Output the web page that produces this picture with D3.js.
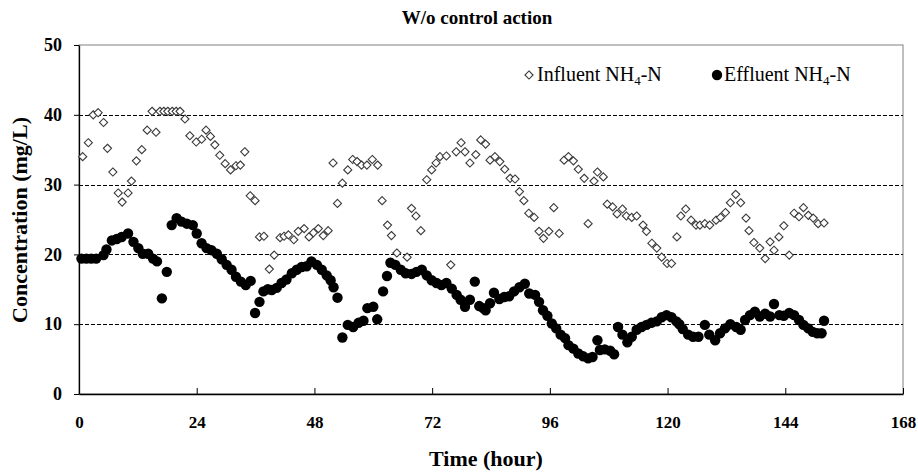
<!DOCTYPE html>
<html>
<head>
<meta charset="utf-8">
<script src="https://cdn.jsdelivr.net/npm/d3@7"></script>
<style>
  html, body { margin: 0; padding: 0; background: #fff; }
  svg text { font-family: "Liberation Serif", "Times New Roman", serif; fill: #000; }
</style>
</head>
<body>
<svg id="chart" width="918" height="472"></svg>
<script>
// Influent NH4-N: [time (h), concentration (mg/L)]
const influent = [
  [0.75,34.0],[1.9,36.0],[2.9,40.0],[3.9,40.3],[5.0,38.9],[5.8,35.2],[6.9,31.8],[8.0,28.8],
  [8.8,27.5],[10.0,28.8],[10.7,30.5],[11.7,33.4],[12.8,35.0],[13.9,37.8],[14.9,40.5],[15.7,37.5],
  [16.5,40.5],[17.3,40.5],[18.1,40.5],[19.0,40.5],[19.8,40.5],[20.6,40.5],[21.6,39.4],[22.6,37.0],
  [23.9,36.1],[25.0,36.5],[25.9,37.8],[26.8,36.9],[27.7,35.7],[28.7,34.2],[29.8,33.0],[30.9,32.1],
  [32.0,32.7],[32.9,32.8],[33.8,34.7],[34.9,28.4],[35.9,27.7],[36.8,22.5],[37.7,22.6],[38.8,17.9],
  [39.8,19.9],[41.0,22.4],[41.8,22.6],[42.7,22.8],[43.8,22.1],[44.7,23.3],[45.9,23.7],[46.9,22.5],
  [47.8,23.1],[48.8,23.7],[49.8,22.7],[50.8,23.4],[51.8,33.1],[52.7,27.3],[53.7,30.2],[54.8,32.1],
  [55.8,33.6],[56.7,33.3],[57.6,32.8],[58.7,32.8],[59.8,33.6],[60.9,32.8],[61.8,27.7],[62.9,24.2],
  [63.7,22.7],[64.8,20.2],[66.9,19.6],[67.8,26.6],[68.7,25.5],[69.7,23.4],[70.9,30.7],[71.9,32.1],
  [72.8,33.1],[73.6,34.0],[74.9,34.1],[75.8,18.5],[76.9,34.7],[77.9,36.0],[78.7,34.7],[79.7,33.1],
  [80.9,34.3],[81.9,36.4],[82.9,35.8],[83.8,33.5],[84.8,34.0],[85.8,33.3],[86.8,32.2],[87.9,30.9],
  [88.9,30.8],[89.8,29.0],[90.7,27.7],[91.7,25.9],[92.8,25.3],[93.8,23.3],[94.7,22.3],[95.8,23.3],
  [96.8,26.7],[97.9,23.0],[98.9,33.5],[99.8,34.0],[100.8,33.4],[101.8,32.2],[103.0,30.9],[103.8,24.4],
  [105.0,30.5],[105.7,31.8],[106.9,31.1],[107.7,27.2],[108.8,26.8],[109.7,25.8],[110.8,26.5],[111.6,25.5],
  [112.7,25.3],[113.7,25.5],[115.0,24.2],[115.7,23.3],[116.8,21.6],[117.8,20.9],[118.8,19.6],[119.9,18.7],
  [120.8,18.7],[121.9,22.5],[122.7,25.5],[123.7,26.5],[124.8,24.9],[125.8,24.2],[126.6,24.2],[127.6,24.4],
  [128.6,24.2],[129.9,24.9],[130.8,25.3],[131.8,26.0],[132.8,27.4],[133.9,28.6],[134.9,27.4],[136.0,25.2],
  [136.6,23.4],[137.6,21.7],[138.8,20.9],[139.9,19.4],[140.9,21.8],[141.7,20.6],[142.7,22.5],[143.7,24.1],
  [144.8,19.9],[145.8,25.9],[146.8,25.4],[147.7,26.7],[148.7,25.6],[149.7,25.2],[150.7,24.4],[151.9,24.5]
];

// Effluent NH4-N: [time (h), concentration (mg/L)]
const effluent = [
  [0.5,19.4],[1.5,19.4],[2.5,19.4],[3.5,19.4],[5.0,19.9],[5.6,20.7],[6.7,22.0],[7.7,22.2],
  [8.7,22.5],[10.0,23.0],[11.1,21.8],[12.1,20.9],[13.0,20.1],[14.1,20.1],[15.1,19.4],[15.9,19.0],
  [16.9,13.7],[17.9,17.5],[18.9,24.2],[19.9,25.2],[20.9,24.7],[22.0,24.4],[23.2,24.2],[24.0,23.0],
  [25.0,21.6],[26.0,20.9],[27.0,20.6],[28.1,20.1],[29.1,19.3],[30.1,18.5],[31.1,17.8],[32.0,16.8],
  [33.0,16.1],[34.0,15.6],[35.0,16.2],[35.9,11.6],[36.8,13.2],[37.6,14.7],[38.5,15.0],[39.3,14.9],
  [40.3,15.2],[41.3,15.9],[42.3,16.4],[43.4,17.3],[44.4,17.8],[45.4,18.2],[46.4,18.3],[47.4,19.0],
  [48.5,18.5],[49.5,17.8],[50.5,17.0],[51.3,16.3],[51.9,15.3],[52.7,13.8],[53.7,8.1],[54.8,9.9],
  [55.9,9.6],[57.0,10.2],[58.0,10.5],[58.8,12.3],[60.0,12.5],[60.8,10.7],[62.0,14.7],[62.8,16.9],
  [63.5,18.8],[64.5,18.5],[65.6,17.8],[66.6,17.3],[67.8,17.2],[68.8,17.5],[69.9,17.8],[70.9,17.0],
  [71.9,16.3],[72.9,15.9],[73.9,15.6],[74.9,15.9],[76.0,15.1],[77.0,14.2],[77.8,13.5],[78.7,12.5],
  [79.7,13.5],[80.7,16.1],[81.6,12.6],[82.4,12.3],[82.9,12.0],[83.8,13.0],[84.6,14.5],[85.7,13.6],
  [86.7,13.9],[87.7,14.0],[88.7,14.7],[89.8,15.3],[90.9,15.8],[91.8,14.4],[93.0,14.2],[93.8,13.2],
  [94.6,12.0],[95.5,11.2],[96.4,10.1],[97.3,9.4],[98.2,8.5],[99.1,8.0],[99.8,7.0],[100.8,6.5],
  [101.8,5.8],[102.8,5.4],[103.8,5.1],[104.7,5.3],[105.7,7.7],[106.2,6.3],[107.2,6.4],[108.3,6.2],
  [109.1,5.7],[109.9,9.6],[110.8,8.5],[111.8,7.4],[112.7,8.2],[113.7,9.2],[114.7,9.6],[115.7,9.9],
  [116.7,10.2],[117.8,10.4],[118.8,11.0],[119.8,11.3],[120.8,11.0],[121.8,10.4],[122.4,10.0],[123.1,9.3],
  [124.2,8.5],[125.2,8.2],[126.3,8.2],[127.6,9.9],[128.5,8.5],[129.7,7.7],[130.7,8.7],[131.7,9.4],
  [132.8,10.0],[134.0,9.6],[134.9,9.2],[135.8,10.6],[136.8,11.3],[137.8,11.8],[138.8,11.1],[139.9,11.5],
  [140.9,11.1],[141.7,12.9],[142.8,11.3],[143.7,11.2],[144.8,11.6],[145.8,11.3],[146.8,10.6],[147.7,9.9],
  [148.7,9.4],[149.6,8.9],[150.5,8.7],[151.4,8.7],[151.9,10.5]
];

const xTicks = [0, 24, 48, 72, 96, 120, 144, 168];
const yTicks = [0, 10, 20, 30, 40, 50];
const gridValues = [10, 20, 30, 40];

const svg = d3.select("#chart");
const margin = { left: 79, right: 15, top: 45, bottom: 78 };
const W = 918, H = 472;

const x = d3.scaleLinear().domain([0, 168]).range([margin.left, W - margin.right]);
const y = d3.scaleLinear().domain([0, 50]).range([H - margin.bottom, margin.top]);

// plot frame (top and right sides in grey)
svg.append("rect")
  .attr("x", x(0)).attr("y", y(50))
  .attr("width", x(168) - x(0)).attr("height", y(0) - y(50))
  .attr("fill", "none").attr("stroke", "#808080").attr("stroke-width", 1);

// dashed horizontal gridlines
svg.append("g").selectAll("line").data(gridValues).join("line")
  .attr("x1", x(0)).attr("x2", x(168))
  .attr("y1", d => Math.round(y(d)) + 0.5).attr("y2", d => Math.round(y(d)) + 0.5)
  .attr("stroke", "#000").attr("stroke-width", 1).attr("stroke-dasharray", "4,2");

// x axis: ticks pointing into the plot
const xAxis = svg.append("g")
  .attr("transform", `translate(0,${y(0)})`)
  .call(d3.axisBottom(x).tickValues(xTicks).tickSizeInner(-6).tickSizeOuter(0).tickPadding(22));
xAxis.select(".domain").attr("stroke", "#000").attr("stroke-width", 1.3);
xAxis.selectAll(".tick line").attr("stroke", "#000");
xAxis.selectAll("text")
  .style("font-family", "Liberation Serif").style("font-size", "17px").style("font-weight", "bold");

// y axis: ticks pointing outward
const yAxis = svg.append("g")
  .attr("transform", `translate(${x(0)},0)`)
  .call(d3.axisLeft(y).tickValues(yTicks).tickSizeInner(5).tickSizeOuter(0).tickPadding(12));
yAxis.select(".domain").attr("stroke", "#000").attr("stroke-width", 1.3);
yAxis.selectAll(".tick line").attr("stroke", "#000");
yAxis.selectAll("text")
  .style("font-family", "Liberation Serif").style("font-size", "18px").style("font-weight", "bold");

// influent series: open diamonds
const diamond = d3.symbol().type(d3.symbolDiamond2).size(42)();
svg.append("g").selectAll("path").data(influent).join("path")
  .attr("d", diamond)
  .attr("transform", d => `translate(${x(d[0])},${y(d[1])})`)
  .attr("fill", "#fff").attr("stroke", "#3a3a3a").attr("stroke-width", 1.1);

// effluent series: filled circles
svg.append("g").selectAll("circle").data(effluent).join("circle")
  .attr("cx", d => x(d[0])).attr("cy", d => y(d[1])).attr("r", 5.2)
  .attr("fill", "#000");

// title
svg.append("text")
  .attr("x", 477).attr("y", 24).attr("text-anchor", "middle")
  .style("font-size", "19px").style("font-weight", "bold")
  .text("W/o control action");

// axis titles
svg.append("text")
  .attr("x", 486).attr("y", 466).attr("text-anchor", "middle")
  .style("font-size", "22px").style("font-weight", "bold")
  .text("Time (hour)");

svg.append("text")
  .attr("transform", `translate(27,220) rotate(-90)`)
  .attr("text-anchor", "middle")
  .style("font-size", "22px").style("font-weight", "bold")
  .text("Concentration (mg/L)");

// legend
const legend = svg.append("g");
legend.append("path")
  .attr("d", diamond)
  .attr("transform", `translate(529,75)`)
  .attr("fill", "#fff").attr("stroke", "#3a3a3a").attr("stroke-width", 1.1);
const t1 = legend.append("text").attr("x", 537).attr("y", 81).style("font-size", "20px");
t1.append("tspan").text("Influent NH");
t1.append("tspan").attr("dy", 4).style("font-size", "13px").text("4");
t1.append("tspan").attr("dy", -4).text("-N");

legend.append("circle").attr("cx", 717).attr("cy", 75).attr("r", 5.2).attr("fill", "#000");
const t2 = legend.append("text").attr("x", 724).attr("y", 81).style("font-size", "20px");
t2.append("tspan").text("Effluent NH");
t2.append("tspan").attr("dy", 4).style("font-size", "13px").text("4");
t2.append("tspan").attr("dy", -4).text("-N");
</script>
</body>
</html>
